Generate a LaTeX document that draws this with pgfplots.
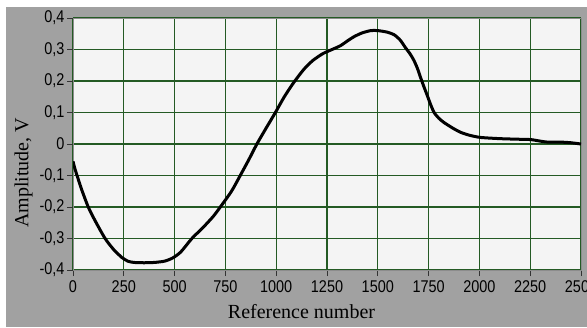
\documentclass[border=0pt]{standalone}
\usepackage{fontspec}
\setmainfont{Liberation Serif}
\newfontfamily\tickfont[FakeStretch=0.85]{Liberation Sans}
\usepackage{pgfplots}
\pgfplotsset{compat=1.18}
\definecolor{bgout}{HTML}{A1A1A1}
\definecolor{bgplot}{HTML}{F4F4F4}
\definecolor{gridg}{HTML}{245A24}
\begin{document}
\begin{tikzpicture}[x=1bp,y=1bp]
\useasboundingbox (0,0) rectangle (587,327);
\fill[bgout] (6,0) rectangle (587,320);
\begin{axis}[
  at={(73bp,57bp)}, anchor=south west,
  scale only axis, width=508bp, height=252bp,
  xmin=0, xmax=2500, ymin=-0.4, ymax=0.4,
  xtick={0,250,...,2500},
  ytick={-0.4,-0.3,...,0.4},
  axis background/.style={fill=bgplot},
  grid=major,
  major grid style={draw=gridg, line width=1.1bp},
  axis line style={draw=black!45, line width=0.6bp},
  tick align=outside, major tick length=6bp,
  tick style={draw=black!80, line width=0.9bp},
  xtick pos=bottom, ytick pos=left,
  ticklabel style={font=\tickfont\fontsize{17bp}{18bp}\selectfont, text=black},
  /pgf/number format/assume math mode=true,
  /pgf/number format/use comma,
  /pgf/number format/1000 sep={},
  yticklabel style={/pgf/number format/fixed, /pgf/number format/precision=1, xshift=1bp},
  xticklabel style={yshift=-1bp},
]
\addplot[black, line width=3bp, line join=round, smooth, tension=0.4] coordinates {
(0,-0.055) (10,-0.08) (20,-0.10) (40,-0.14) (75,-0.20) (110,-0.245)
(158,-0.30) (200,-0.335) (240,-0.36) (270,-0.372) (300,-0.376) (350,-0.377)
(400,-0.376) (450,-0.372) (490,-0.362) (530,-0.343) (585,-0.30) (640,-0.265)
(690,-0.23) (725,-0.20) (780,-0.15) (823,-0.10) (865,-0.05) (905,0.0)
(950,0.05) (996,0.10) (1040,0.15) (1086,0.195) (1136,0.237) (1180,0.265)
(1230,0.287) (1275,0.30) (1316,0.312) (1350,0.327) (1381,0.34) (1420,0.352)
(1465,0.36) (1500,0.36) (1547,0.355) (1580,0.347) (1610,0.33) (1637,0.305)
(1660,0.285) (1678,0.265) (1695,0.24) (1711,0.21) (1728,0.18) (1744,0.153)
(1760,0.125) (1777,0.10) (1800,0.082) (1826,0.068) (1870,0.05) (1908,0.037)
(1950,0.028) (2003,0.021) (2100,0.017) (2200,0.015) (2253,0.014) (2300,0.009)
(2336,0.006) (2400,0.006) (2450,0.004) (2500,0.0)
};
\end{axis}
\node[font=\fontsize{20bp}{21bp}\selectfont, text=black] at (301.5,15) {Reference number};
\node[font=\fontsize{20bp}{21bp}\selectfont, text=black, rotate=90] at (23.5,154) {Amplitude, V};
\end{tikzpicture}
\end{document}
